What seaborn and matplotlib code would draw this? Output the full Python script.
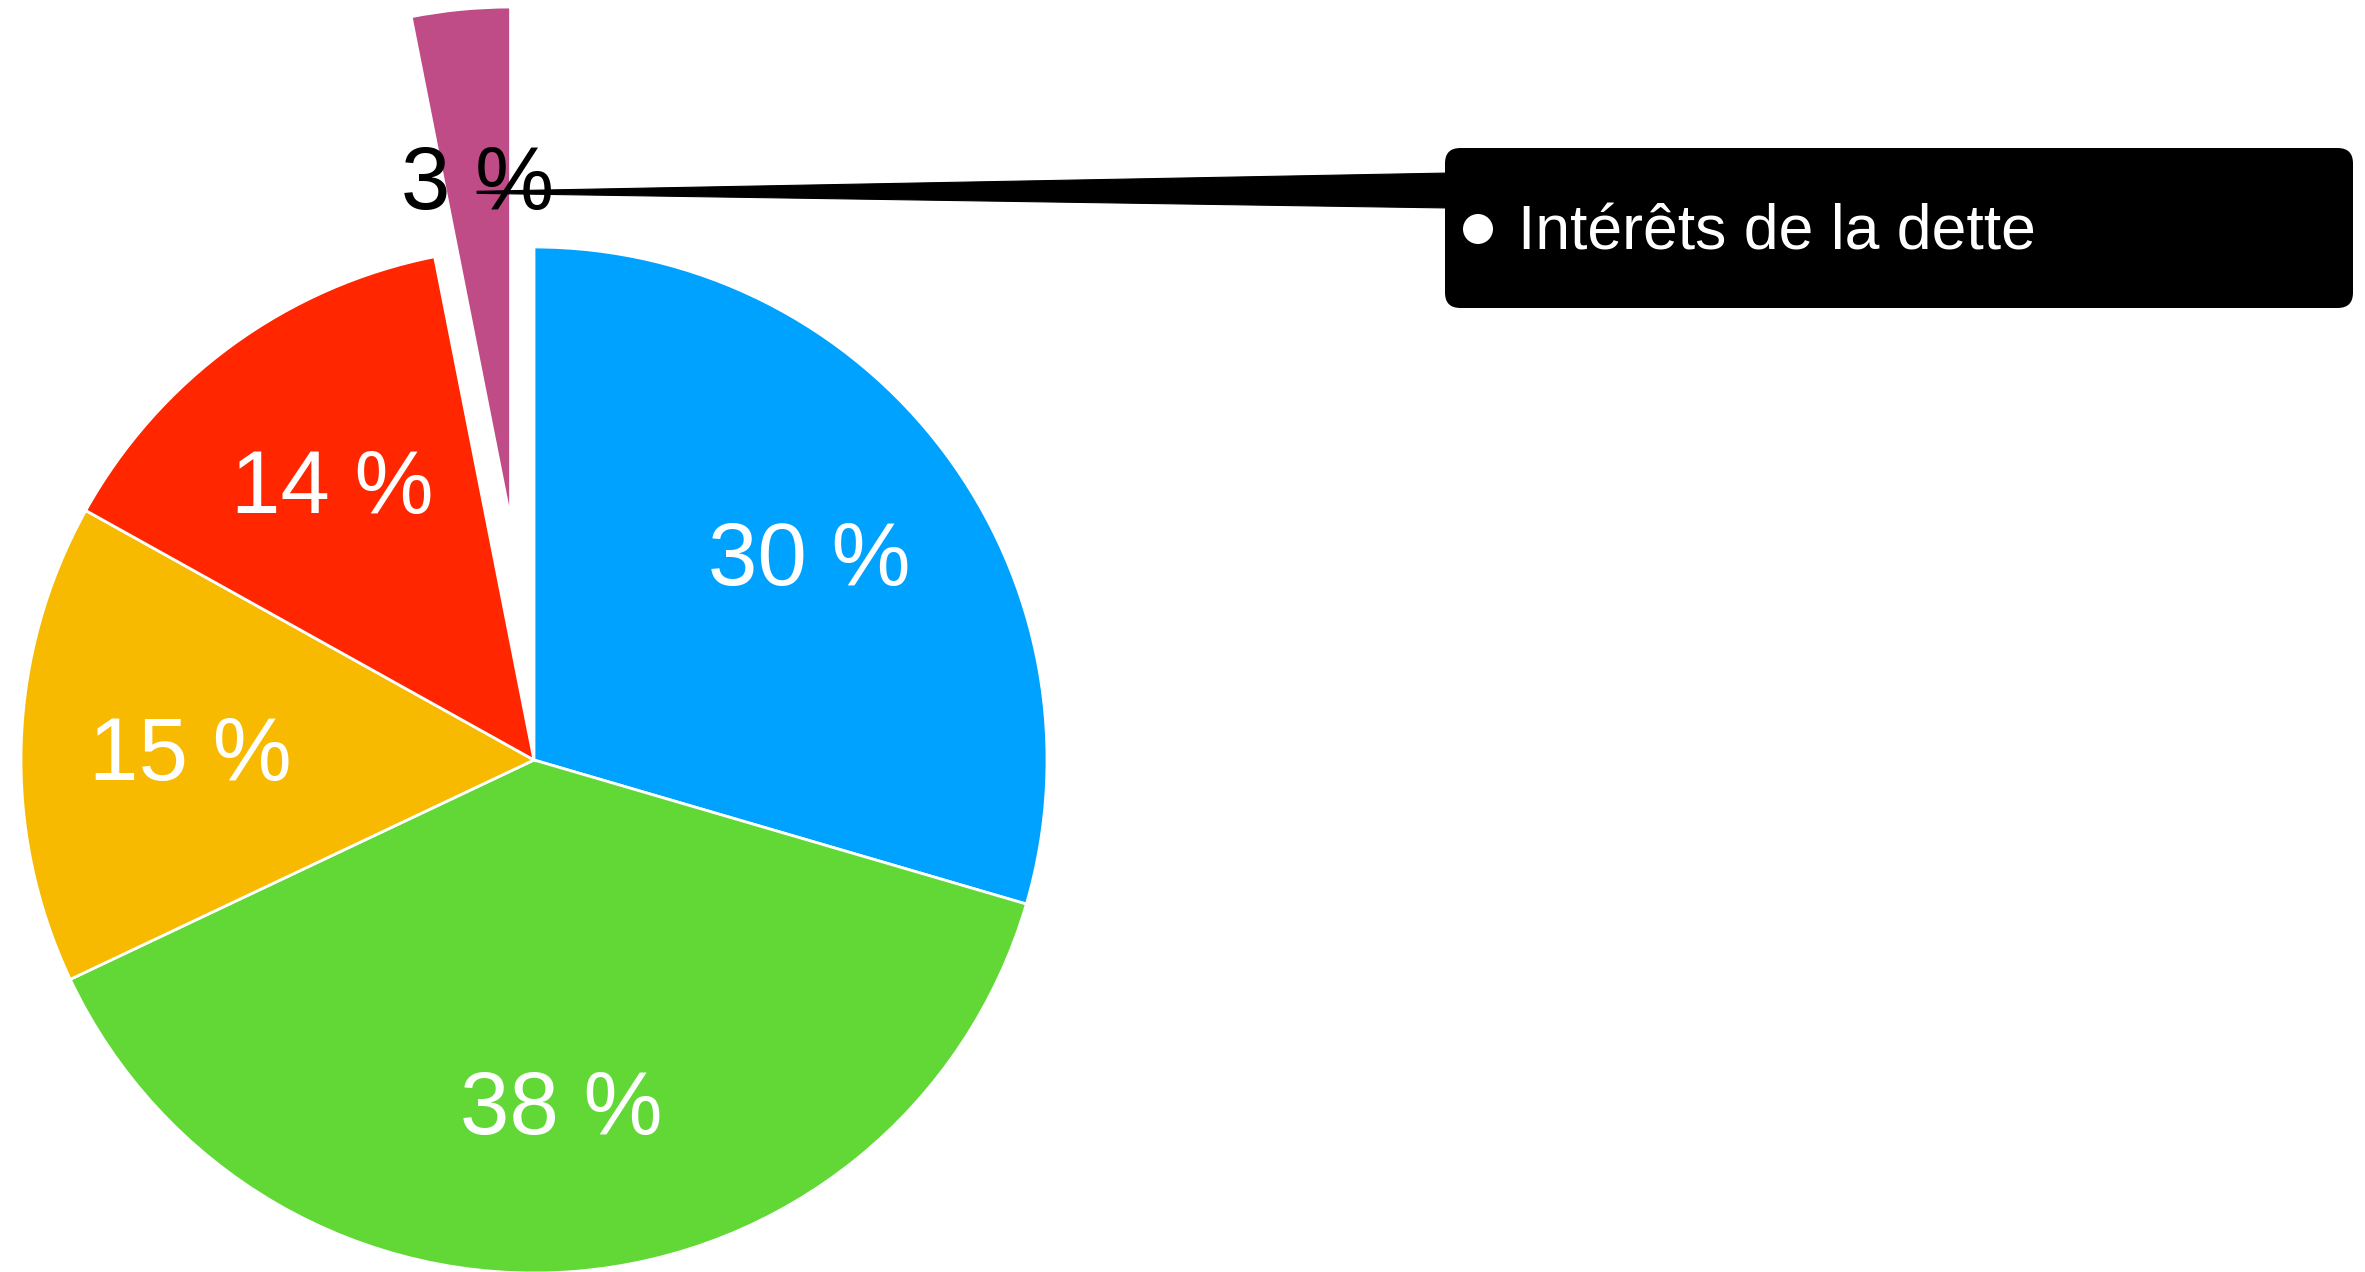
import numpy as np
import seaborn as sns
import matplotlib.pyplot as plt
from matplotlib.patches import FancyBboxPatch, Polygon, Circle

# ===== Data =====
categories = ["Catégorie 1", "Catégorie 2", "Catégorie 3", "Catégorie 4", "Intérêts de la dette"]
shares = [29.5, 38.4, 15.1, 13.8, 3.1]
colors = ["#00A2FF", "#61D836", "#F8BA00", "#FF2600", "#BF4B87"]
explode = [0, 0, 0, 0, 0.47]
highlight = "Intérêts de la dette"

# ===== Figure =====
sns.set_style("white")
plt.rcParams['font.family'] = ['Liberation Sans', 'DejaVu Sans']

W, H = 2365, 1272
cx, cy, R = 534, 760, 513   # pie centre / radius in pixels

fig = plt.figure(figsize=(W / 100, H / 100), dpi=100)
ax = fig.add_axes([0, 0, 1, 1])

palette = sns.color_palette(colors)
wedges, texts, autotexts = ax.pie(
    shares, colors=palette, explode=explode, startangle=90, counterclock=False,
    autopct=lambda p: f"{p:.0f} %", pctdistance=0.67, radius=1,
    wedgeprops=dict(edgecolor="white", linewidth=2),
    textprops=dict(color="white", fontsize=64),
)

# data limits so that 1 unit = R pixels, centre at (cx, cy)
ax.set_xlim(-cx / R, (W - cx) / R)
ax.set_ylim(-(H - cy) / R, cy / R)
ax.set_aspect("auto")
ax.axis("off")

def px(x, y):
    return (x - cx) / R, (cy - y) / R

# labels sit a little lower in the original
for t in autotexts:
    x, y = t.get_position()
    t.set_position((x, y - 0.016))

i = categories.index(highlight)
autotexts[i].set_color("black")
autotexts[i].set_zorder(6)

# callout box
bx0, by0 = px(1445, 308)
bx1, by1 = px(2353, 148)
box = FancyBboxPatch((bx0, by0), bx1 - bx0, by1 - by0,
                     boxstyle="round,pad=0,rounding_size=0.03",
                     facecolor="black", edgecolor="none", zorder=4)
ax.add_patch(box)

# pointer from the label to the box
tx, ty = autotexts[i].get_position()
ty = ty - 0.012
_, ya = px(0, 173)
_, yb = px(0, 208)
ax.add_patch(Polygon([(tx, ty + 0.002), (bx0 + 0.01, ya), (bx0 + 0.01, yb), (tx, ty - 0.002)],
                     closed=True, facecolor="black", edgecolor="black", linewidth=0.8, zorder=5))

dx, dy = px(1478, 229)
ax.add_patch(Circle((dx, dy), 15 / R, facecolor="white", edgecolor="none", zorder=6))
lx, ly = px(1518, 233)
ax.text(lx, ly, highlight, color="white", fontsize=45, va="center", ha="left", zorder=6)

fig.savefig("out.png", dpi=100)
